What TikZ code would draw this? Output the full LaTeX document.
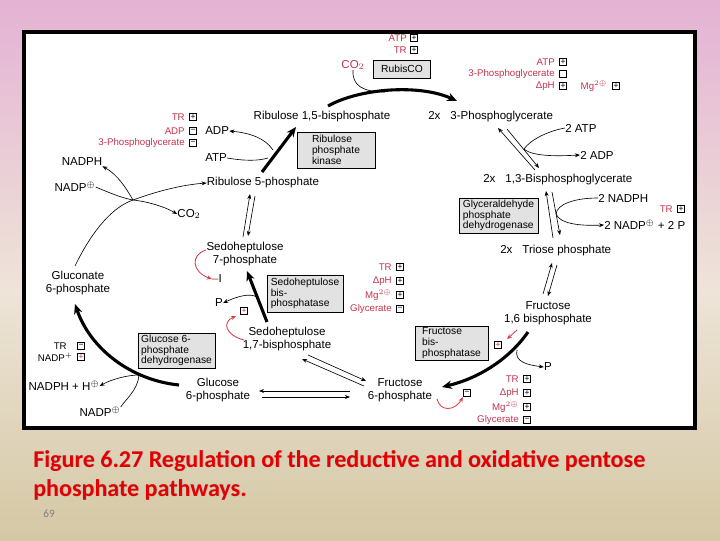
\documentclass[tikz,border=0pt]{standalone}
\usepackage{fontspec}
\setmainfont{Liberation Sans}
\newfontfamily\capfont{Carlito}
\usetikzlibrary{arrows.meta}
\definecolor{regred}{RGB}{196,52,78}
\definecolor{arrred}{RGB}{214,60,70}
\definecolor{capred}{RGB}{226,0,0}
\definecolor{slidetop}{RGB}{228,178,212}
\definecolor{slidemid}{RGB}{238,228,216}
\definecolor{slidebot}{RGB}{212,200,164}
\definecolor{enzgray}{RGB}{226,226,226}
\begin{document}
\begin{tikzpicture}[x=0.025cm,y=-0.025cm,
 lbl/.style={inner sep=0pt, font=\fontsize{8.2}{9.3}\selectfont, align=center},
 rl/.style={inner sep=0pt, font=\fontsize{6.9}{7}\selectfont, text=regred},
 bl/.style={inner sep=0pt, font=\fontsize{6.9}{7}\selectfont},
 enz/.style={draw, line width=0.5pt, fill=enzgray, inner sep=0pt, align=left, font=\fontsize{7.3}{7.6}\selectfont},
 sg/.style={draw, line width=0.45pt, minimum size=5.4pt, inner sep=0pt, font=\fontsize{6}{6}\selectfont},
 thin/.style={line width=0.45pt, -{Stealth[length=3.6pt,width=2.8pt]}},
 thinl/.style={line width=0.45pt},
 thk/.style={line width=2.2pt, -{Stealth[length=7pt,width=6pt]}},
 redarr/.style={arrred, line width=0.6pt, -{Stealth[length=3.6pt,width=3pt]}},
 captext/.style={anchor=base west, inner sep=0pt, align=left, font=\capfont\bfseries\fontsize{17.1}{20.6}\selectfont},
]
\useasboundingbox (0,0) rectangle (720,540);
% slide background
\begin{scope}[y=0.025cm]
\shade[top color=slidetop, bottom color=slidemid] (0,0) rectangle (720,-290);
\shade[top color=slidemid, bottom color=slidebot] (0,-290) rectangle (720,-540);
\end{scope}
% frame
\draw[line width=2.9pt, fill=white] (24,32) rectangle (695,428);

% ---------- top regulators
\node[rl, anchor=east] (atpA) at (407,38) {ATP};
\node[sg] (sA1) at (414,38) {+};
\node[rl, anchor=east] (trA) at (407,50) {TR};
\node[sg] (sA2) at (414,50) {+};
\node[inner sep=0pt, font=\fontsize{8.2}{9}\selectfont, text=regred] (co2a) at (353,65) {CO$_2$};
\node[enz, align=center, minimum width=14.25mm, minimum height=4.5mm] (rubisco) at (402,69) {RubisCO};
\node[rl, anchor=east] (atpB) at (555,62) {ATP};
\node[sg] (sB1) at (563,62) {+};
\node[rl, anchor=east] (pgaB) at (555,74) {3-Phosphoglycerate};
\node[sg] (sB2) at (563,74) {};
\node[rl, anchor=east] (dphB) at (555,86) {ΔpH};
\node[sg] (sB3) at (563,86) {+};
\node[rl] (mgB) at (594,86) {Mg$^{2\oplus}$};
\node[sg] (sB4) at (616,86) {+};

% ---------- upper row
\node[lbl] (rubp) at (322,117) {Ribulose 1,5-bisphosphate};
\node[lbl, anchor=west] (pga) at (428,117) {2x\hspace{2.5mm}3-Phosphoglycerate};
\node[rl, anchor=east] (trC) at (185,117) {TR};
\node[sg] (sC1) at (193,117) {+};
\node[rl, anchor=east] (adpC) at (185,131) {ADP};
\node[sg] (sC2) at (193,131) {−};
\node[rl, anchor=east] (pgaC) at (185,143) {3-Phosphoglycerate};
\node[sg] (sC3) at (193,143) {−};
\node[lbl, anchor=west] (adp) at (205,131) {ADP};
\node[lbl, anchor=west] (atp) at (205,158) {ATP};
\node[enz, minimum width=19.5mm, minimum height=9mm] (kinase) at (336,150) {Ribulose\\phosphate\\kinase};
\node[lbl] (ru5p) at (263,183) {Ribulose 5-phosphate};
\node[lbl] (nadph) at (82,162) {NADPH};
\node[lbl] (nadp) at (75,187) {NADP$^{\oplus}$};
\node[lbl] (co2b) at (189,214) {CO$_2$};

% ---------- right column
\node[lbl, anchor=west] (atp3) at (565,128) {2 ATP};
\node[lbl, anchor=west] (adp3) at (580,155) {2 ADP};
\node[lbl, anchor=west] (bpg) at (483,180) {2x\hspace{2.5mm}1,3-Bisphosphoglycerate};
\node[enz, minimum width=19.75mm, minimum height=8.75mm] (gapdh) at (498.5,215.5) {Glyceraldehyde\\phosphate\\dehydrogenase};
\node[lbl, anchor=west] (nadph2) at (598,198) {2 NADPH};
\node[lbl, anchor=west] (nadp3) at (604,225) {2 NADP$^{\oplus}$ + 2 P};
\node[rl, anchor=east] (trT) at (673,209) {TR};
\node[sg] (sT1) at (681,209) {+};
\node[lbl, anchor=west] (triose) at (500,251) {2x\hspace{2.5mm}Triose phosphate};
\node[lbl] (f16bp) at (548,313) {Fructose\\1,6 bisphosphate};
\node[enz, minimum width=18.25mm, minimum height=8.5mm] (fbpase) at (451.5,343) {Fructose\\bis-\\phosphatase};
\node[sg] (sF0) at (498,345) {\textcolor{regred}{+}};
\node[lbl] (pF) at (548,367) {P};
\node[sg] (eF) at (467,393) {−};
\node[rl, anchor=east] (trF) at (519,379) {TR};
\node[sg] (sF1) at (527,379) {+};
\node[rl, anchor=east] (dphF) at (519,393) {ΔpH};
\node[sg] (sF2) at (527,393) {+};
\node[rl, anchor=east] (mgF) at (519,407) {Mg$^{2\oplus}$};
\node[sg] (sF3) at (527,407) {+};
\node[rl, anchor=east] (glyF) at (519,420) {Glycerate};
\node[sg] (sF4) at (527,420) {−};

% ---------- middle
\node[lbl] (s7p) at (245,254) {Sedoheptulose\\7-phosphate};
\node[enz, minimum width=19mm, minimum height=9.25mm] (sbpase) at (305,293.5) {Sedoheptulose\\bis-\\phosphatase};
\node[inner sep=0pt, font=\fontsize{8.2}{9}\selectfont] (inhS) at (217,279) {\textcolor{regred}{–}I};
\node[lbl] (pS) at (219,303) {P};
\node[sg] (sS0) at (244,311) {\textcolor{regred}{+}};
\node[rl, anchor=east] (trS) at (392,267) {TR};
\node[sg] (sS1) at (400,267) {+};
\node[rl, anchor=east] (dphS) at (392,281) {ΔpH};
\node[sg] (sS2) at (400,281) {+};
\node[rl, anchor=east] (mgS) at (392,295) {Mg$^{2\oplus}$};
\node[sg] (sS3) at (400,295) {+};
\node[rl, anchor=east] (glyS) at (392,309) {Glycerate};
\node[sg] (sS4) at (400,309) {−};
\node[lbl] (sbp) at (287,339) {Sedoheptulose\\1,7-bisphosphate};

% ---------- left lower
\node[lbl] (glcn) at (78,283) {Gluconate\\6-phosphate};
\node[enz, minimum width=19.25mm, minimum height=8.75mm] (g6pdh) at (176.5,350.5) {Glucose 6-\\phosphate\\dehydrogenase};
\node[bl, anchor=east] (trG) at (67,346) {TR};
\node[sg] (sG1) at (81,346) {−};
\node[bl, anchor=east] (nadpG) at (73,357) {NADP$^{+}$};
\node[sg] (sG2) at (81,357) {\textcolor{regred}{+}};
\node[lbl] (nadphh) at (64,386) {NADPH + H$^{\oplus}$};
\node[lbl] (nadp2) at (100,412) {NADP$^{\oplus}$};
\node[lbl] (g6p) at (218,390) {Glucose\\6-phosphate};
\node[lbl] (f6p) at (400,390) {Fructose\\6-phosphate};

% ---------- connectors
% RubisCO
\coordinate (r0) at (328,106); \coordinate (r1) at (457,101); \coordinate (rj) at (385,92);
\draw[thk] (r0) .. controls (360,88) and (420,84) .. (r1);
\draw[thinl] (co2a.south) .. controls (352,85) and (362,92) .. (rj);
% kinase
\coordinate (k0) at (262,172); \coordinate (k1) at (296,127);
\coordinate (kj1) at (268,158); \coordinate (kj2) at (273,150);
\draw[thk] (k0) -- (k1);
\draw[thinl] (atp.east) .. controls (245,161) and (258,161) .. (kj1);
\draw[thin] (kj2) .. controls (265,138) and (250,133) .. (adp.east);
% oxidative decarboxylation
\coordinate (o0) at (75,266); \coordinate (oj) at (133,200);
\draw[thin] (o0) .. controls (90,235) and (110,208) .. (oj) .. controls (155,192) and (180,185) .. (ru5p.west);
\draw[thinl] (nadp.east) .. controls (110,193) and (122,198) .. (oj);
\draw[thin] (oj) .. controls (126,188) and (118,175) .. (nadph.south east);
\draw[thin] (oj) .. controls (150,202) and (165,207) .. (co2b.west);
% Ru5P <-> S7P
\coordinate (a1) at (243,237); \coordinate (a2) at (250,194);
\coordinate (a3) at (255,196); \coordinate (a4) at (248,236);
\draw[thin] (a1) -- (a2); \draw[thin] (a3) -- (a4);
% SBPase
\coordinate (sb0) at (267,322); \coordinate (sb1) at (247,271); \coordinate (sbj) at (257,297);
\draw[thk] (sb0) -- (sb1);
\draw[thin] (sbj) .. controls (250,293) and (238,296) .. (pS.east);
\coordinate (rs0) at (206,250); \coordinate (rs1) at (244,340); \coordinate (rs2) at (236,316);
\draw[redarr] (rs0) .. controls (190,255) and (192,272) .. (inhS.west);
\draw[redarr] (rs1) .. controls (225,335) and (222,322) .. (rs2);
% S1,7BP <-> F6P
\coordinate (b1) at (308,355); \coordinate (b2) at (366,381);
\coordinate (b3) at (364,386); \coordinate (b4) at (302,359);
\draw[thin] (b1) -- (b2); \draw[thin] (b3) -- (b4);
% G6P <-> F6P
\coordinate (e1) at (350,391); \coordinate (e2) at (259,391);
\coordinate (e3) at (262,397); \coordinate (e4) at (350,397);
\draw[thin] (e1) -- (e2); \draw[thin] (e3) -- (e4);
% G6PDH
\coordinate (gg0) at (179,385); \coordinate (gg1) at (75,304); \coordinate (gj) at (139,375);
\draw[thk] (gg0) .. controls (130,380) and (90,348) .. (gg1);
\draw[thinl] (nadp2.north east) .. controls (125,400) and (138,390) .. (gj);
\draw[thin] (gj) .. controls (128,375) and (112,379) .. (nadphh.east);
% FBPase
\coordinate (fb0) at (528,332); \coordinate (fb1) at (442,387); \coordinate (fbj) at (517,350);
\draw[thk] (fb0) .. controls (510,358) and (480,378) .. (fb1);
\draw[thin] (fbj) .. controls (514,362) and (528,365) .. (pF.west);
\coordinate (rf0) at (517,330); \coordinate (rf1) at (507,339);
\draw[redarr] (rf0) -- (rf1);
\coordinate (rf2) at (437,399);
\draw[redarr] (rf2) .. controls (440,412) and (455,411) .. (eF.south west);
% Triose <-> F1,6BP
\coordinate (t1) at (543,294); \coordinate (t2) at (552,263);
\coordinate (t3) at (557,265); \coordinate (t4) at (548,296);
\draw[thin] (t1) -- (t2); \draw[thin] (t3) -- (t4);
% 1,3BPG <-> triose
\coordinate (u1) at (553,238); \coordinate (u2) at (546,191);
\coordinate (u3) at (552,192); \coordinate (u4) at (560,235);
\coordinate (tj) at (556,214);
\draw[thin] (u1) -- (u2); \draw[thin] (u3) -- (u4);
\draw[thinl] (nadph2.west) .. controls (575,198) and (557,204) .. (tj);
\draw[thin] (tj) .. controls (560,224) and (580,226) .. (nadp3.west);
% 3PG <-> 1,3BPG
\coordinate (v1) at (535,170); \coordinate (v2) at (498,128);
\coordinate (v3) at (507,129); \coordinate (v4) at (539,168);
\coordinate (pj) at (524,149);
\draw[thin] (v1) -- (v2); \draw[thin] (v3) -- (v4);
\draw[thinl] (atp3.west) .. controls (548,131) and (530,140) .. (pj);
\draw[thin] (pj) .. controls (533,157) and (560,156) .. (adp3.west);

% ---------- caption
\node[captext, text=black!30] (capsh) at (33.8,496.8) {Figure 6.27 Regulation of the reductive and oxidative pentose\\phosphate pathways.};
\node[captext, text=capred] (cap) at (33,496) {Figure 6.27 Regulation of the reductive and oxidative pentose\\phosphate pathways.};
\node[inner sep=0pt, text=gray, font=\capfont\fontsize{8}{8}\selectfont] (pg) at (49,514) {69};
\end{tikzpicture}
\end{document}
